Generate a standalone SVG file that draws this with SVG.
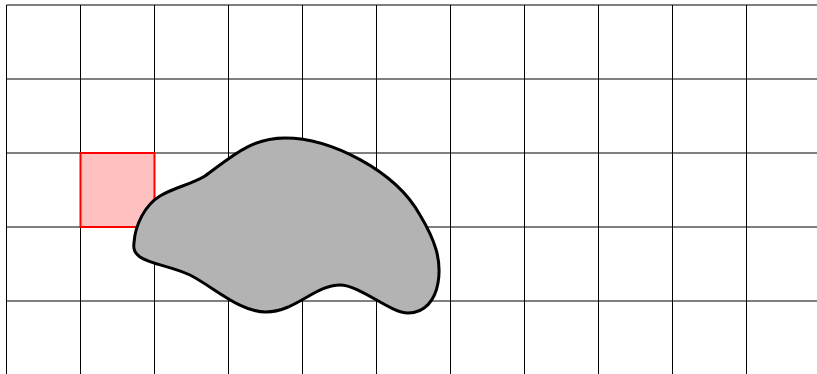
<svg xmlns="http://www.w3.org/2000/svg" width="817" height="374" viewBox="0 0 817 374">
<style>
.grid line{stroke:#000;stroke-width:1}
.sq{fill:#ffc0c0;stroke:#ff0000;stroke-width:2}
.blob{fill:#b3b3b3;stroke:#000;stroke-width:3;stroke-linejoin:round}
</style>
<rect width="817" height="374" fill="#fff"/>
<g class="grid" id="grid">
<line x1="6.5" y1="5" x2="817" y2="5"/>
<line x1="6.5" y1="79" x2="817" y2="79"/>
<line x1="6.5" y1="153" x2="817" y2="153"/>
<line x1="6.5" y1="227" x2="817" y2="227"/>
<line x1="6.5" y1="301" x2="817" y2="301"/>
<line x1="6.5" y1="5" x2="6.5" y2="374"/>
<line x1="80.5" y1="5" x2="80.5" y2="374"/>
<line x1="154.5" y1="5" x2="154.5" y2="374"/>
<line x1="228.5" y1="5" x2="228.5" y2="374"/>
<line x1="302.5" y1="5" x2="302.5" y2="374"/>
<line x1="376.5" y1="5" x2="376.5" y2="374"/>
<line x1="450.5" y1="5" x2="450.5" y2="374"/>
<line x1="524.5" y1="5" x2="524.5" y2="374"/>
<line x1="598.5" y1="5" x2="598.5" y2="374"/>
<line x1="672.5" y1="5" x2="672.5" y2="374"/>
<line x1="746.5" y1="5" x2="746.5" y2="374"/>
</g>
<g id="square">
<rect class="sq" x="80.5" y="153" width="74" height="74"/>
</g>
<g id="blob">
<path class="blob" d="M134,243 C135,225 145,205 160,196 C175,187 190,185 205,176 C230,158 250,138 285,138 C330,138 395,170 420,215 C435,240 442,260 438,283 C435,300 425,313 408,313 C390,313 360,285 340,285 C315,285 295,312 266,312 C240,312 215,288 190,275 C170,266 150,264 140,257 C135,253 133,250 134,243 Z"/>
</g>
</svg>
